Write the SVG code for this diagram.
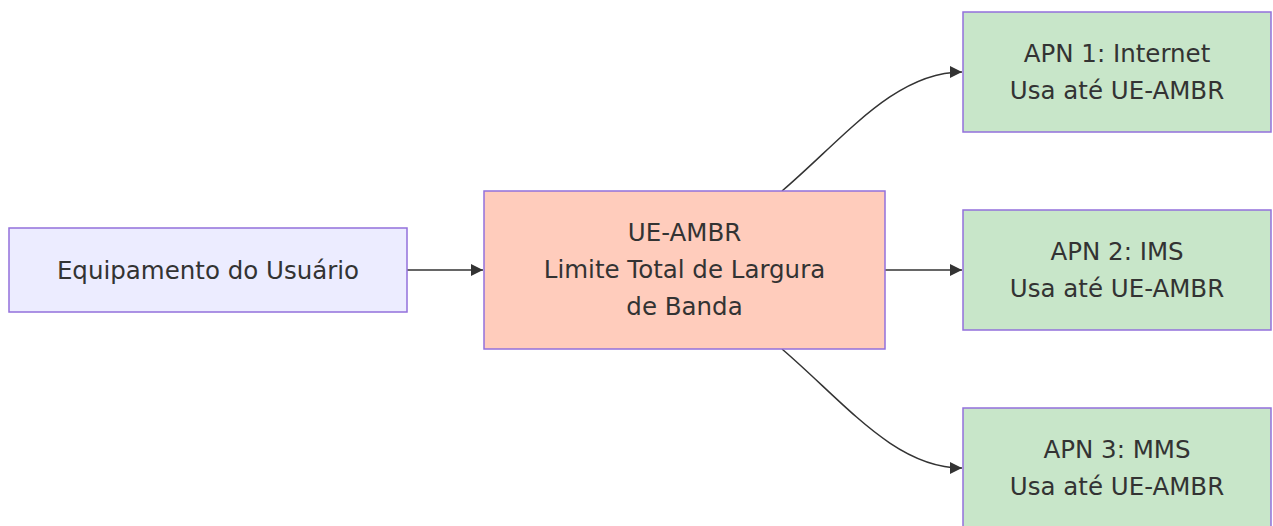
<svg xmlns="http://www.w3.org/2000/svg" width="1273" height="526" viewBox="0 0 1273 526">
<style>
.node rect { stroke: #9370DB; stroke-width: 1.5; }
.node text { font-family: "DejaVu Sans", Verdana, sans-serif; font-size: 24.5px; fill: #333; text-anchor: middle; }
.edge { fill: none; stroke: #333; stroke-width: 1.5; }
</style>
<defs>
<marker id="arrow" markerUnits="userSpaceOnUse" viewBox="0 0 12 12" refX="12" refY="6" markerWidth="12" markerHeight="12" orient="auto">
<path d="M0,0 L12,6 L0,12 z" fill="#333"/>
</marker>
</defs>
<rect width="1273" height="526" fill="#ffffff"/>
<g id="edges">
<path class="edge" d="M407,270 L483,270" marker-end="url(#arrow)"/>
<path class="edge" d="M885,270 L962,270" marker-end="url(#arrow)"/>
<path class="edge" d="M782,191 C845,137 895,72 962,72" marker-end="url(#arrow)"/>
<path class="edge" d="M782,349 C845,403 895,468 962,468" marker-end="url(#arrow)"/>
</g>
<g id="ue" class="node">
<rect x="9" y="228" width="398" height="84" fill="#ECECFF"/>
<text x="208" y="279">Equipamento do Usuário</text>
</g>
<g id="ambr" class="node">
<rect x="484" y="191" width="401" height="158" fill="#FFCCBC"/>
<text x="684.5" y="241">UE-AMBR</text>
<text x="684.5" y="278">Limite Total de Largura</text>
<text x="684.5" y="315">de Banda</text>
</g>
<g id="apn1" class="node">
<rect x="963" y="12" width="308" height="120" fill="#C8E6C9"/>
<text x="1117" y="62">APN 1: Internet</text>
<text x="1117" y="99">Usa até UE-AMBR</text>
</g>
<g id="apn2" class="node">
<rect x="963" y="210" width="308" height="120" fill="#C8E6C9"/>
<text x="1117" y="260">APN 2: IMS</text>
<text x="1117" y="297">Usa até UE-AMBR</text>
</g>
<g id="apn3" class="node">
<rect x="963" y="408" width="308" height="120" fill="#C8E6C9"/>
<text x="1117" y="458">APN 3: MMS</text>
<text x="1117" y="495">Usa até UE-AMBR</text>
</g>
</svg>
